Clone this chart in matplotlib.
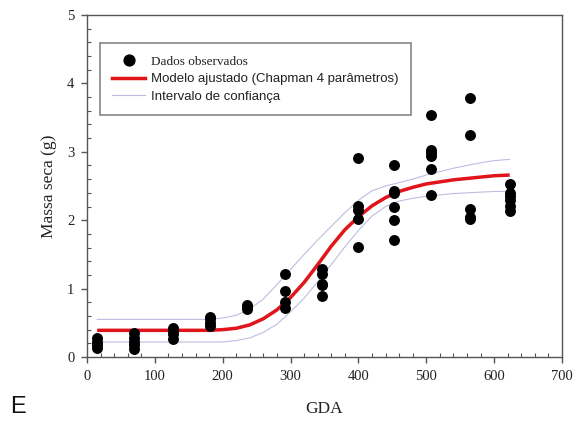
import matplotlib
matplotlib.use("Agg")
import matplotlib.pyplot as plt
from matplotlib.lines import Line2D

# ---- observed data ----
gda_levels = [15, 70, 127, 181, 236, 292, 347, 400, 452, 507, 565, 624]
massa_obs = [
    [0.28, 0.22, 0.17, 0.13],
    [0.35, 0.28, 0.22, 0.18, 0.11],
    [0.43, 0.38, 0.33, 0.27],
    [0.59, 0.55, 0.50, 0.46],
    [0.76, 0.73, 0.70],
    [1.22, 0.97, 0.80, 0.72],
    [1.28, 1.22, 1.07, 1.05, 0.89],
    [2.91, 2.21, 2.15, 2.02, 1.61],
    [2.81, 2.43, 2.40, 2.20, 2.00, 1.71],
    [3.54, 3.02, 2.98, 2.94, 2.75, 2.37],
    [3.79, 3.24, 2.17, 2.05, 2.02],
    [2.53, 2.40, 2.35, 2.30, 2.21, 2.13],
]

# ---- fitted curve and confidence band ----
gda_curve = [15, 100, 180, 200, 220, 240, 260, 280, 300, 320, 340, 360, 380,
             400, 420, 440, 460, 480, 500, 520, 540, 560, 580, 600, 623]
massa_fit = [0.39, 0.39, 0.39, 0.40, 0.42, 0.47, 0.56, 0.69, 0.87, 1.09, 1.35,
             1.62, 1.86, 2.05, 2.21, 2.33, 2.42, 2.48, 2.53, 2.56, 2.59, 2.61,
             2.63, 2.65, 2.66]
ic_sup = [0.55, 0.55, 0.55, 0.57, 0.61, 0.70, 0.85, 1.06, 1.28, 1.50, 1.71,
          1.91, 2.11, 2.29, 2.43, 2.50, 2.55, 2.60, 2.66, 2.71, 2.76, 2.80,
          2.84, 2.87, 2.89]
ic_inf = [0.22, 0.22, 0.22, 0.22, 0.24, 0.28, 0.36, 0.48, 0.66, 0.86, 1.10,
          1.35, 1.61, 1.85, 2.06, 2.20, 2.28, 2.32, 2.35, 2.37, 2.39, 2.40,
          2.41, 2.42, 2.42]

x_ticks = [0, 100, 200, 300, 400, 500, 600, 700]
y_ticks = [0, 1, 2, 3, 4, 5]

serif = "Liberation Serif"
sans = "Liberation Sans"

fig = plt.figure(figsize=(5.75, 4.21), dpi=100)
ax = fig.add_axes([0.1513, 0.152, 0.826, 0.8124])

band_color = "#bdbde2"
ax.plot(gda_curve, ic_sup, color=band_color, lw=0.8, zorder=2)
ax.plot(gda_curve, ic_inf, color=band_color, lw=0.8, zorder=2)
ax.plot(gda_curve, massa_fit, color="#e0141a", lw=2.5, zorder=3,
        solid_capstyle="butt")

xs, ys = [], []
for g, vals in zip(gda_levels, massa_obs):
    for v in vals:
        xs.append(g)
        ys.append(v)
ax.scatter(xs, ys, s=62, color="black", zorder=4, linewidths=0)

ax.set_xlim(0, 700)
ax.set_ylim(0, 5)
ax.set_xticks(x_ticks)
ax.set_yticks(y_ticks)
ax.set_xticks(range(0, 701, 20), minor=True)
ax.set_yticks([i * 0.2 for i in range(26)], minor=True)

spine_col = "#555555"
for s in ax.spines.values():
    s.set_color(spine_col)
    s.set_linewidth(1.0)
ax.tick_params(which="major", direction="out", length=4, width=1.0,
               color=spine_col, labelsize=10.5, pad=5)
ax.tick_params(which="minor", direction="in", length=3, width=0.8,
               color=spine_col)
for lab in ax.get_xticklabels() + ax.get_yticklabels():
    lab.set_fontfamily(serif)
    lab.set_color("#222222")

ax.set_xlabel("GDA", fontfamily=serif, fontsize=12.5, labelpad=13,
              color="#222222")
ax.set_ylabel("Massa seca (g)", fontfamily=serif, fontsize=12.5,
              labelpad=7, color="#222222")

handles = [
    Line2D([], [], marker="o", ls="none", color="black", markersize=7.8),
    Line2D([], [], color="#e0141a", lw=2.5),
    Line2D([], [], color=band_color, lw=0.8),
]
labels = ["Dados observados", "Modelo ajustado (Chapman 4 parâmetros)",
          "Intervalo de confiança"]
leg = ax.legend(handles, labels, loc="upper left",
                bbox_to_anchor=(0.027, 0.918), borderaxespad=0,
                fancybox=False, frameon=True,
                handlelength=2.5, handletextpad=0.45, labelspacing=0.4,
                borderpad=0.95, prop={"family": sans, "size": 9.5})
leg.get_frame().set_edgecolor("#666666")
leg.get_frame().set_linewidth(1.2)
texts = leg.get_texts()
texts[0].set_fontfamily(serif)
for t in texts:
    t.set_color("#222222")

fig.text(0.018, 0.02, "E", fontfamily=sans, fontsize=17, color="#111111")

fig.savefig("out.png", dpi=100)
